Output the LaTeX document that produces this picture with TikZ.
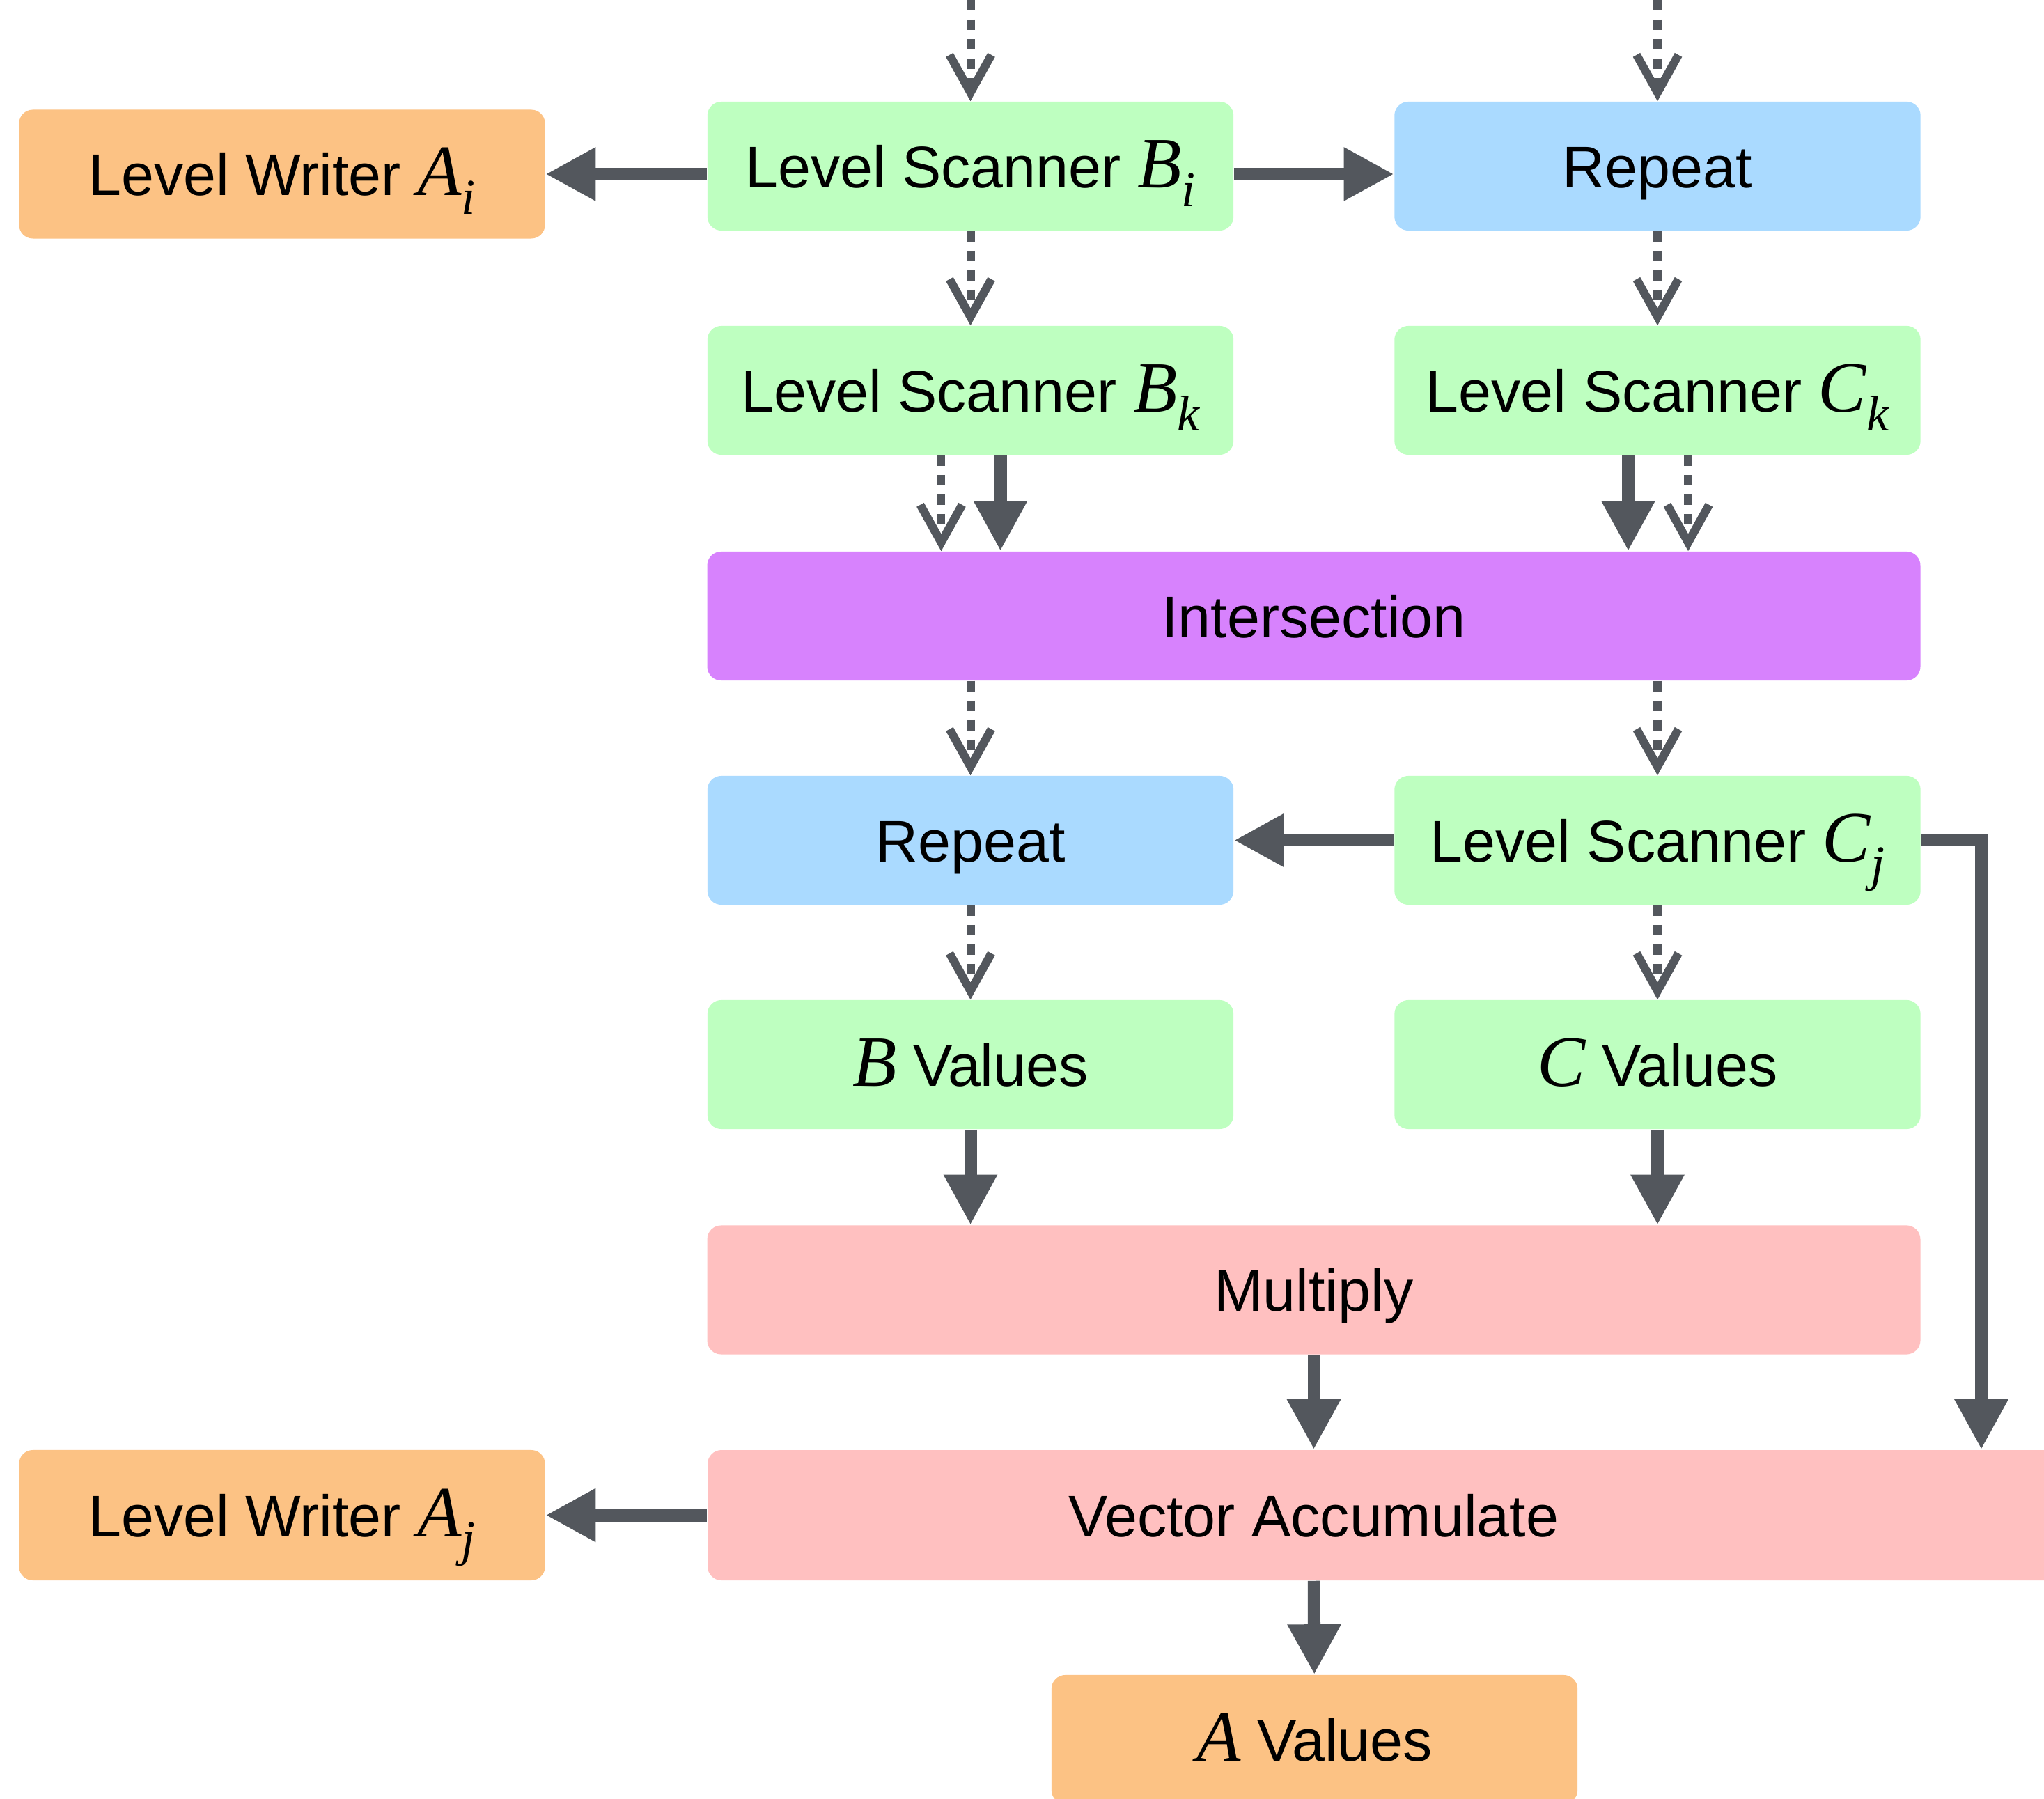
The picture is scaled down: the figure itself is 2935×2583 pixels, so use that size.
\documentclass[tikz,border=0pt]{standalone}
\usepackage{fontspec}
\setmainfont{Liberation Sans}
\newfontfamily\mvfont{Liberation Serif}[ItalicFont={* Italic}]
\usetikzlibrary{arrows.meta}
\definecolor{cOrange}{HTML}{FCC284}
\definecolor{cGreen}{HTML}{BEFFC0}
\definecolor{cBlue}{HTML}{AADAFF}
\definecolor{cPurple}{HTML}{D782FD}
\definecolor{cPink}{HTML}{FFC0C0}
\definecolor{cGray}{HTML}{53575D}
\newcommand\mvar[1]{{\mvfont\itshape\fontsize{29.5}{31}\selectfont #1}}
\newcommand\mvsub[2]{\mvar{#1}\raisebox{-7.7pt}{\mvfont\itshape\fontsize{20.5}{22}\selectfont #2}}
\tikzset{
  box/.style={rectangle, rounded corners=0.2cm, minimum width=7.55cm, minimum height=1.85cm,
    inner sep=0pt, text height=0.78cm, text depth=0.17cm,
    font=\fontsize{24}{28}\selectfont, text=black},
  widebox/.style={box, minimum width=17.41cm},
  orangebox/.style={box, fill=cOrange},
  greenbox/.style={box, fill=cGreen},
  bluebox/.style={box, fill=cBlue},
  solidarrow/.style={draw=cGray, line width=0.18cm, -{Triangle[length=0.72cm,width=0.72cm]}},
  dotarrow/.style={draw=cGray, line width=0.12cm, dash pattern=on 0.15cm off 0.13cm,
    -{Straight Barb[length=0.54cm,width=0.6cm]}},
}
\begin{document}
\begin{tikzpicture}[x=0.01cm, y=-0.01cm]
\useasboundingbox (0,0) rectangle (2935,2583);
\clip (0,0) rectangle (2935,2583);

% row 1
\node[orangebox] (ai) at (405,250) {Level Writer \mvsub{A}{i}};
\node[greenbox] (bi) at (1393.5,238.5) {Level Scanner \mvsub{B}{i}};
\node[bluebox] (rep1) at (2380,238.5) {Repeat};
% row 2
\node[greenbox] (bk) at (1393.5,560.5) {Level Scanner \mvsub{B}{k}};
\node[greenbox] (ck) at (2380,560.5) {Level Scanner \mvsub{C}{k}};
% row 3
\node[widebox, fill=cPurple] (inter) at (1886.5,884.5) {Intersection};
% row 4
\node[bluebox] (rep2) at (1393.5,1206.5) {Repeat};
\node[greenbox] (cj) at (2380,1206.5) {Level Scanner \mvsub{C}{j}};
% row 5
\node[greenbox] (bv) at (1393.5,1528.5) {\mvar{B} Values};
\node[greenbox] (cv) at (2380,1528.5) {\mvar{C} Values};
% row 6
\node[widebox, fill=cPink] (mul) at (1886.5,1852) {Multiply};
% row 7
\fill[cPink, rounded corners=0.2cm] (1016,2082) rectangle (3100,2269);
\node[widebox, minimum height=1.87cm] (va) at (1886.5,2175.5) {Vector Accumulate};
\node[orangebox, minimum height=1.87cm] (aj) at (405,2175.5) {Level Writer \mvsub{A}{j}};
% row 8
\node[orangebox] (av) at (1887.5,2497.5) {\mvar{A} Values};

% coordinates
\coordinate (tin1) at (1393.5,0);
\coordinate (tin2) at (2380,0);
\coordinate (cjturn) at (2845,1206.5);

% dotted arrows
\draw[dotarrow] (tin1) -- (bi);
\draw[dotarrow] (tin2) -- (rep1);
\draw[dotarrow] (bi) -- (bk);
\draw[dotarrow] (rep1) -- (ck);
\draw[dotarrow] ([xshift=-0.42cm]bk.south) -- ([xshift=-0.42cm]bk.south |- inter.north);
\draw[dotarrow] ([xshift=0.44cm]ck.south) -- ([xshift=0.44cm]ck.south |- inter.north);
\draw[dotarrow] (inter.south -| rep2) -- (rep2);
\draw[dotarrow] (inter.south -| cj) -- (cj);
\draw[dotarrow] (rep2) -- (bv);
\draw[dotarrow] (cj) -- (cv);

% solid arrows
\draw[solidarrow] (bi.west |- ai) -- (ai.east);
\draw[solidarrow] (bi.east |- ai) -- (rep1.west |- ai);
\draw[solidarrow] ([xshift=0.43cm]bk.south) -- ([xshift=0.43cm]bk.south |- inter.north);
\draw[solidarrow] ([xshift=-0.42cm]ck.south) -- ([xshift=-0.42cm]ck.south |- inter.north);
\draw[solidarrow] (cj) -- (rep2);
\draw[solidarrow] (bv.south) -- (bv.south |- mul.north);
\draw[solidarrow] (cv.south) -- (cv.south |- mul.north);
\draw[solidarrow] (mul) -- (va);
\draw[solidarrow] (cj.east) -- (cjturn) -- (cjturn |- va.north);
\draw[solidarrow] (va) -- (aj);
\draw[solidarrow] (va) -- (av);
\end{tikzpicture}
\end{document}
